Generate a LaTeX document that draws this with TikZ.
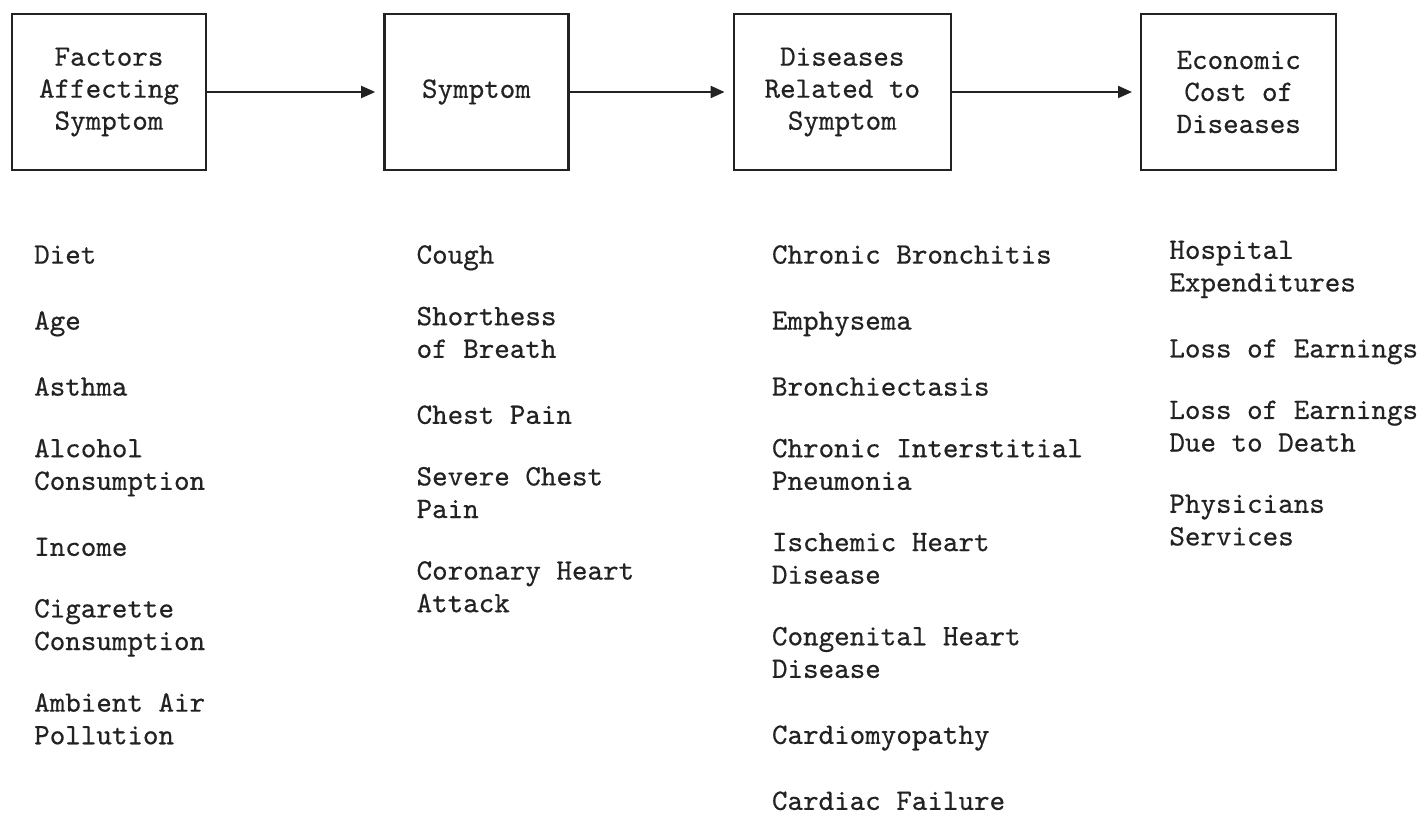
\documentclass[tikz,border=0pt]{standalone}
\usepackage{fontspec}
\newfontfamily\typewriter{lmmono10-regular.otf}[FakeBold=0.5]
\usetikzlibrary{arrows.meta, positioning}
\definecolor{ink}{RGB}{34,34,34}

\begin{document}
\begin{tikzpicture}[
    node distance=16.3pt,
    stage/.style={rectangle, draw=ink, line width=1.2pt, minimum height=78pt, align=center, text=ink, font=\typewriter\fontsize{14.8}{16}\selectfont},
    item/.style={anchor=north west, inner sep=0pt, align=left, text=ink, font=\typewriter\fontsize{14.8}{16.3}\selectfont, execute at begin node=\strut, execute at end node=\strut},
    listbelow/.style={below=of #1.south west, anchor=north west},
    arrow/.style={-{Triangle[length=7pt, width=6pt]}, line width=1pt, ink, shorten >=4pt},
]
\useasboundingbox (0,0) rectangle (709pt,-412pt);

% Stages
\node[stage, minimum width=97pt] (factors) at (54.5pt,-46pt) {Factors\\Affecting\\Symptom};
\node[stage, minimum width=92pt, right=88pt of factors] (symptom) {Symptom};
\node[stage, minimum width=108.5pt, right=81.5pt of symptom] (diseases) {Diseases\\Related to\\Symptom};
\node[stage, minimum width=97.5pt, right=94pt of diseases] (cost) {Economic\\Cost of\\Diseases};

% Arrows
\draw[arrow] (factors) -- (symptom);
\draw[arrow] (symptom) -- (diseases);
\draw[arrow] (diseases) -- (cost);

% Factors
\node[item, below right=34.6pt and 11.5pt of factors.south west] (diet) {Diet};
\node[item, listbelow=diet] (age) {Age};
\node[item, listbelow=age] (asthma) {Asthma};
\node[item, listbelow=asthma] (alcohol) {Alcohol\\Consumption};
\node[item, listbelow=alcohol] (income) {Income};
\node[item, listbelow=income] (cigarette) {Cigarette\\Consumption};
\node[item, listbelow=cigarette] (pollution) {Ambient Air\\Pollution};

% Symptoms
\node[item, below right=34.6pt and 16.5pt of symptom.south west] (cough) {Cough};
\node[item, listbelow=cough] (breath) {Shorthess\\of Breath};
\node[item, listbelow=breath] (chestpain) {Chest Pain};
\node[item, listbelow=chestpain] (severe) {Severe Chest\\Pain};
\node[item, listbelow=severe] (coronary) {Coronary Heart\\Attack};

% Diseases
\node[item, below right=34.6pt and 19.5pt of diseases.south west] (bronchitis) {Chronic Bronchitis};
\node[item, listbelow=bronchitis] (emphysema) {Emphysema};
\node[item, listbelow=emphysema] (bronchiectasis) {Bronchiectasis};
\node[item, listbelow=bronchiectasis] (pneumonia) {Chronic Interstitial\\Pneumonia};
\node[item, listbelow=pneumonia] (ischemic) {Ischemic Heart\\Disease};
\node[item, listbelow=ischemic] (congenital) {Congenital Heart\\Disease};
\node[item, listbelow=congenital] (cardiomyopathy) {Cardiomyopathy};
\node[item, listbelow=cardiomyopathy] (failure) {Cardiac Failure};

% Costs
\node[item, below right=34.6pt and 14.5pt of cost.south west] (hospital) {Hospital\\Expenditures};
\node[item, listbelow=hospital] (earnings) {Loss of Earnings};
\node[item, listbelow=earnings] (death) {Loss of Earnings\\Due to Death};
\node[item, listbelow=death] (physicians) {Physicians\\Services};

\end{tikzpicture}
\end{document}
